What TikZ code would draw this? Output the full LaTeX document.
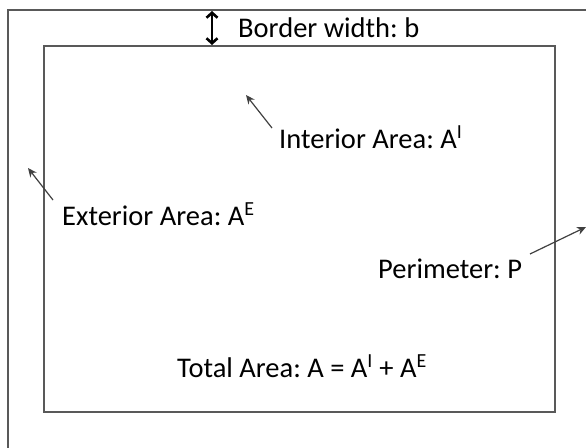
\documentclass[tikz,border=0pt]{standalone}
\usepackage{fontspec}
\setmainfont{Carlito}
\usetikzlibrary{arrows.meta}
\frenchspacing

\begin{document}
\begin{tikzpicture}[x=1pt, y=-1pt,
    every node/.style={font=\fontsize{28.5}{34}\selectfont, inner sep=0pt, anchor=base west},
    frame/.style={draw=black!65, line width=1.6pt},
    pointer/.style={-{Stealth[length=9pt, width=8pt]}, draw=black!75, line width=1.2pt},
    gap/.style={{Straight Barb[length=5pt, width=11pt]}-{Straight Barb[length=5pt, width=11pt]}, line width=2.6pt}]
   \clip (0,0) rectangle (586,447);

   % outer and inner frame
   \draw[frame] (8,10) rectangle (620,480);
   \draw[frame] (44,46) rectangle (555,412);

   \node (border) at (238,37) {Border width: b};
   \node (interior) at (279,148) {Interior Area: A\textsuperscript{I}};
   \node (exterior) at (62,225) {Exterior Area: A\textsuperscript{E}};
   \node (perim) at (378,278) {Perimeter: P};
   \node (total) at (177,377) {Total Area: A = A\textsuperscript{I} + A\textsuperscript{E}};

   \coordinate (b_top) at (212,11);
   \coordinate (b_bot) at (212,45);
   \coordinate (i_from) at (272,128);
   \coordinate (i_to) at (246,95);
   \coordinate (e_from) at (53,200);
   \coordinate (e_to) at (28,168);
   \coordinate (p_from) at (530,254);
   \coordinate (p_to) at (586,227);

   \draw[gap] (b_top) -- (b_bot);
   \draw[pointer] (i_from) -- (i_to);
   \draw[pointer] (e_from) -- (e_to);
   \draw[pointer] (p_from) -- (p_to);
\end{tikzpicture}
\end{document}
